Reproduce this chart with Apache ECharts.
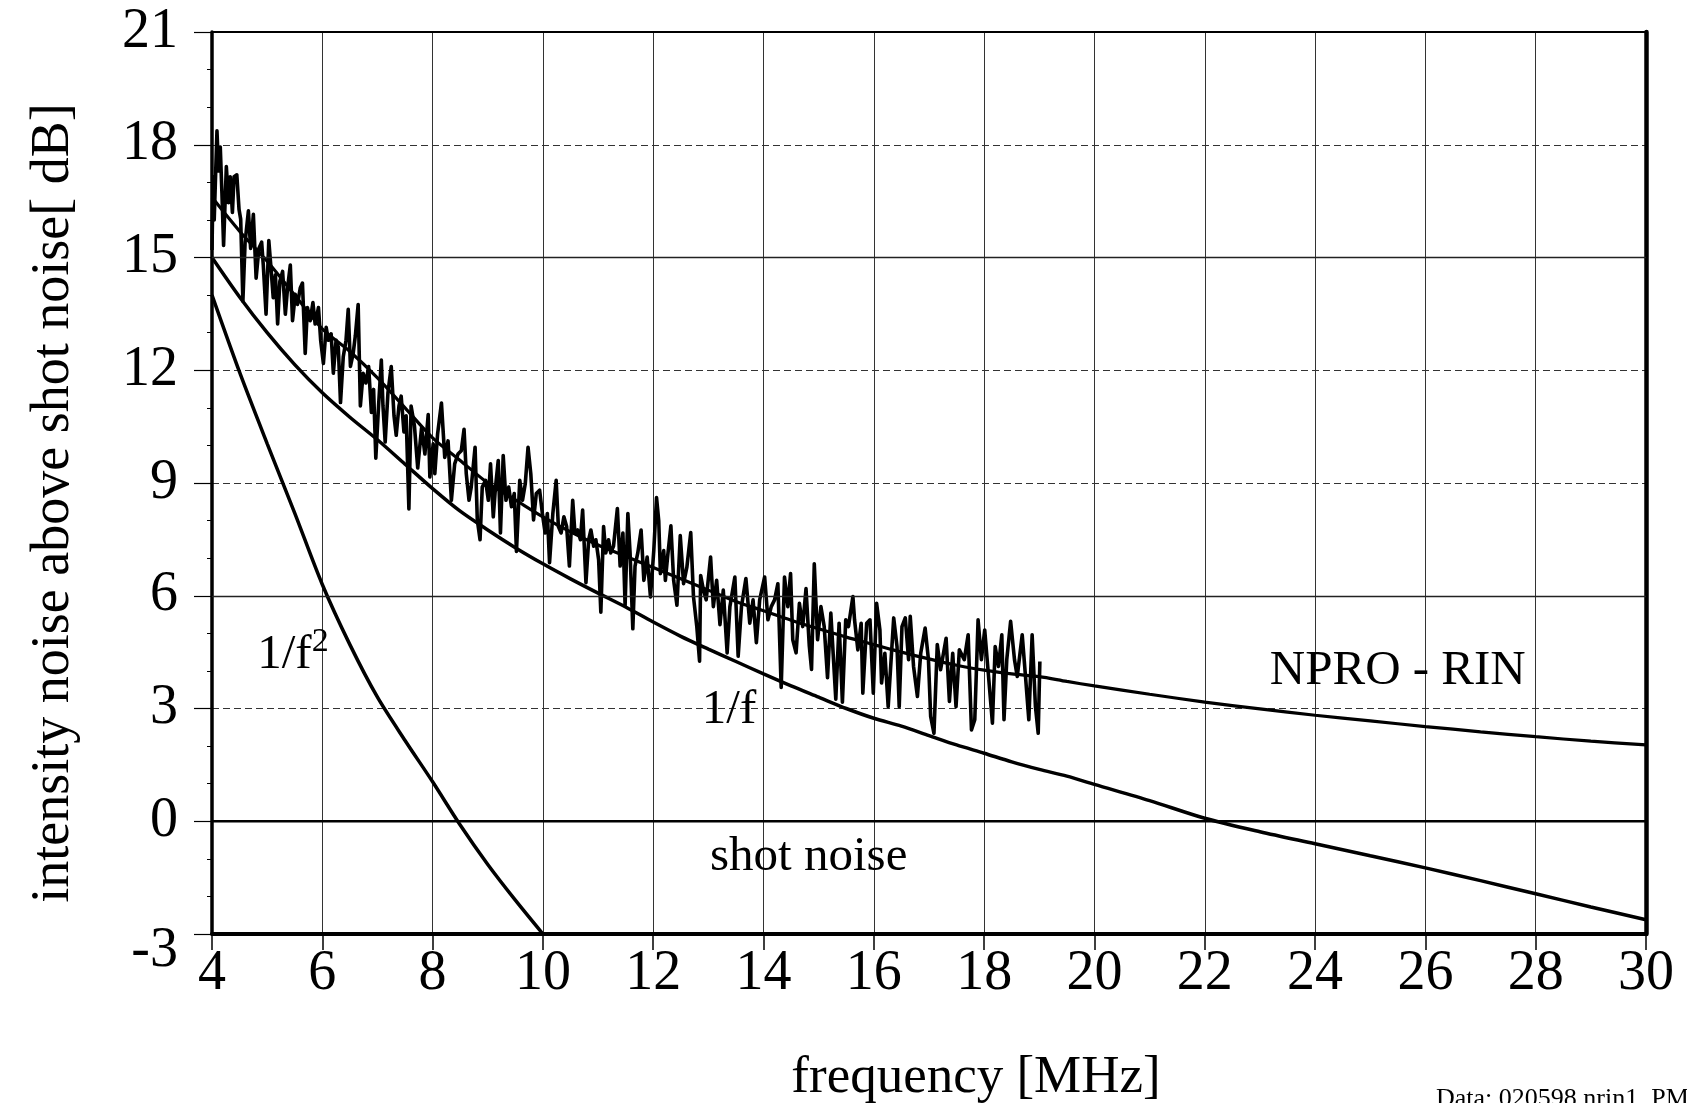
<!DOCTYPE html>
<html><head><meta charset="utf-8">
<script src="https://cdn.jsdelivr.net/npm/echarts@6.0.0/dist/echarts.min.js"></script>
<style>html,body{margin:0;padding:0;background:#fff}#c{width:1687px;height:1103px}</style>
</head><body><div id="c"></div>
<script>
// ---- data ----
const xTickValues = [4,6,8,10,12,14,16,18,20,22,24,26,28,30];
const yTickValues = [-3,0,3,6,9,12,15,18,21];

// 1/f^2 model curve
const invF2Freq = [4.0,4.5,5.0,5.5,6.0,6.5,7.0,7.5,8.0,8.5,9.0,9.5,10.0];
const invF2Db   = [14.0,11.95,10.05,8.2,6.3,4.7,3.3,2.15,1.05,-0.1,-1.15,-2.1,-3.0];

// 1/f model curve
const invFFreq = [4,4.5,5,5.5,6,6.5,7,7.5,8,8.5,9,9.5,10,10.5,11,11.5,12,12.5,13,13.5,14,14.5,15,15.5,16,16.5,17,17.5,18,18.5,19,19.5,20,21,22,23,24,25,26,27,28,29,30];
const invFDb   = [15.0,13.95,13.0,12.15,11.4,10.75,10.15,9.5,8.85,8.25,7.75,7.28,6.85,6.45,6.07,5.7,5.3,4.92,4.58,4.25,3.92,3.6,3.3,3.0,2.74,2.53,2.28,2.03,1.81,1.58,1.38,1.2,0.98,0.55,0.08,-0.28,-0.6,-0.92,-1.24,-1.58,-1.93,-2.28,-2.62];

// NPRO-RIN smooth fit
const nproFitFreq = [4,4.5,5,5.5,6,6.5,7,7.5,8,8.5,9,9.5,10,10.5,11,11.5,12,12.5,13,13.5,14,14.5,15,15.5,16,16.5,17,17.5,18,18.5,19,19.5,20,21,22,23,24,25,26,27,28,29,30];
const nproFitDb   = [16.6,15.7,14.9,14.0,13.1,12.5,11.8,11.0,10.2,9.6,9.0,8.55,8.1,7.7,7.35,7.05,6.75,6.45,6.15,5.85,5.6,5.35,5.12,4.9,4.7,4.5,4.32,4.15,4.02,3.92,3.85,3.72,3.6,3.38,3.17,2.99,2.82,2.67,2.52,2.38,2.25,2.13,2.03];

// NPRO-RIN measured trace (4 - 19 MHz)
const noiseFreq = [
4.00,4.02,4.04,4.09,4.12,4.15,4.18,4.21,4.26,4.30,4.33,4.37,4.40,4.45,4.49,4.52,4.56,4.60,4.66,4.70,
4.75,4.80,4.85,4.90,4.93,4.98,5.03,5.07,5.11,5.15,5.19,5.23,5.28,5.33,5.37,5.42,5.46,5.51,5.55,5.60,
5.64,5.69,5.73,5.78,5.83,5.87,5.93,5.97,6.02,6.07,6.11,6.16,6.20,6.25,6.29,6.33,6.38,6.43,6.47,6.51,
6.56,6.60,6.65,6.69,6.74,6.79,6.84,6.89,6.93,6.97,7.02,7.07,7.10,7.14,7.19,7.25,7.30,7.34,7.39,7.43,
7.48,7.52,7.57,7.61,7.67,7.73,
7.80,7.86,7.92,7.95,8.01,8.04,8.09,8.16,8.22,8.28,8.34,8.40,8.46,8.52,8.57,8.61,8.66,8.70,8.77,8.81,
8.86,8.90,8.96,9.01,9.05,9.10,9.14,9.19,9.23,9.28,9.33,9.38,9.43,9.48,9.52,9.58,9.63,9.68,9.73,9.78,
9.83,9.88,9.94,9.99,10.04,10.08,10.12,10.18,10.24,10.28,10.33,10.38,10.43,10.48,10.54,10.58,10.63,10.68,10.72,10.78,
10.83,10.87,10.92,10.96,11.01,11.05,11.10,11.14,11.19,11.23,11.28,11.35,11.40,11.45,11.49,11.54,11.58,11.63,11.67,11.72,
11.78,
11.83,11.89,11.95,12.01,12.06,12.10,12.13,12.19,12.22,12.26,12.32,12.37,12.43,12.49,12.55,12.61,12.68,12.73,12.79,12.84,
12.86,12.91,12.96,13.04,13.09,13.15,13.21,13.27,13.34,13.39,13.48,13.54,13.60,13.68,13.75,13.81,13.87,13.93,14.02,14.08,
14.14,14.20,14.26,14.32,14.38,14.44,14.49,14.53,14.59,14.65,14.71,14.77,14.83,14.87,14.92,14.98,15.04,15.10,15.16,15.22,
15.31,15.37,15.43,15.49,15.54,
15.62,15.65,15.71,15.77,15.80,15.87,15.93,15.99,16.05,16.11,16.14,16.20,16.26,16.36,16.42,16.46,16.51,16.57,16.63,16.66,
16.72,16.79,16.85,16.93,16.99,17.03,17.09,17.15,17.21,17.31,17.37,17.43,17.49,17.55,17.64,17.71,17.77,17.83,17.89,17.95,
18.01,18.07,18.15,18.20,18.26,18.32,18.36,18.41,18.48,18.55,18.60,18.69,18.75,18.81,18.87,18.93,18.98,19.01
];
const noiseDb = [
15.2,17.15,16.0,18.37,17.3,17.94,16.72,15.32,17.42,16.46,17.15,16.2,17.15,17.2,16.28,16.02,13.84,15.41,16.24,15.24,
16.15,14.45,15.24,15.41,14.8,13.49,15.45,14.71,13.93,14.54,13.23,14.36,14.63,13.49,14.19,14.8,13.32,14.02,13.75,14.19,
14.32,12.45,13.67,13.32,13.8,13.23,13.67,12.8,12.18,13.14,12.8,12.97,11.92,12.8,12.62,11.14,12.36,12.8,13.62,12.1,
12.45,12.93,13.75,11.05,11.92,11.66,12.1,10.88,11.49,9.66,11.05,12.27,11.05,10.09,11.4,12.1,10.79,10.27,11.05,11.31,
10.36,10.79,8.31,11.05,10.53,9.4,
10.47,9.77,10.82,9.16,10.04,9.25,10.3,11.13,9.68,10.12,8.54,9.51,9.77,9.86,10.43,9.25,8.54,8.89,9.95,8.02,
7.49,8.89,9.07,8.54,9.51,8.1,8.89,9.6,7.67,9.73,8.54,8.89,8.37,8.72,7.18,9.07,8.54,8.98,9.95,9.25,
8.02,8.72,8.81,8.19,7.67,8.19,6.88,8.19,9.07,7.84,7.67,8.1,7.84,6.79,8.54,7.67,7.75,7.49,8.28,6.35,
7.49,7.75,7.32,7.49,6.96,5.56,7.84,7.14,7.49,7.14,7.32,8.32,6.79,7.67,5.74,8.19,7.14,5.12,6.79,7.14,
7.75,
6.41,7.03,5.97,7.2,8.61,7.99,6.59,7.2,6.41,7.03,7.86,6.41,5.75,7.6,6.32,6.76,7.68,5.97,5.18,4.26,
6.54,6.15,5.89,7.03,5.71,6.41,5.23,6.15,4.48,5.71,6.5,4.39,5.71,6.46,5.27,5.89,4.75,5.89,6.5,5.36,
5.71,5.89,6.32,3.56,6.5,5.71,6.59,4.83,4.48,5.8,5.18,6.19,4.66,4.04,6.85,4.83,5.71,5.18,3.82,5.54,
3.25,5.27,3.17,5.36,5.18,
5.98,5.36,4.56,5.27,3.41,5.27,5.36,3.41,5.8,5.09,3.68,4.47,3.05,5.41,4.65,3.05,5.18,5.41,4.3,5.45,
4.12,3.32,4.47,5.14,4.3,2.79,2.34,4.7,4.03,4.87,3.19,4.47,3.05,4.56,4.3,4.96,2.43,2.7,5.36,4.3,
5.09,4.03,2.61,4.65,4.12,4.96,2.7,4.3,5.32,4.3,3.85,4.96,3.85,2.7,4.96,3.05,2.34,4.25
];

// shot-noise reference level
const shotFreq = [4, 30];
const shotDb = [0, 0];
// grid levels drawn solid in the reference
const solidGridLevels = [15, 6];

// ---- chart ----
const SERIF = "'Liberation Serif','Times New Roman',serif";
const zip = (a, b) => a.map((x, i) => [x, b[i]]);
const chart = echarts.init(document.getElementById('c'), null, {renderer: 'canvas'});
const lineBase = {type: 'line', showSymbol: false, symbol: 'none', silent: true, animation: false,
  xAxisIndex: 0, yAxisIndex: 0};

chart.setOption({
  backgroundColor: '#fff',
  animation: false,
  grid: {left: 212, right: 41, top: 32, bottom: 169, show: true, borderColor: '#000', borderWidth: 2,
         outerBoundsMode: 'none', containLabel: false},
  xAxis: [{
    type: 'value', min: 4, max: 30, interval: 2, position: 'bottom',
    axisLine: {show: true, onZero: false, lineStyle: {color: '#000', width: 4}},
    axisTick: {show: true, length: 16, lineStyle: {color: '#000', width: 1.5}},
    axisLabel: {color: '#000', fontFamily: SERIF, fontSize: 56, margin: 12,
      formatter: v => xTickValues.includes(v) ? String(v) : ''},
    splitLine: {show: true, lineStyle: {color: '#333', width: 1, type: 'solid'}}
  }, {
    type: 'value', min: 4, max: 30, position: 'top',
    axisLine: {show: true, onZero: false, lineStyle: {color: '#000', width: 2}},
    axisTick: {show: false}, axisLabel: {show: false}, splitLine: {show: false}
  }],
  yAxis: [{
    type: 'value', min: -3, max: 21, interval: 3, position: 'left',
    axisLine: {show: true, onZero: false, lineStyle: {color: '#000', width: 3.5}},
    axisTick: {show: true, length: 18, lineStyle: {color: '#000', width: 1.2}},
    minorTick: {show: true, splitNumber: 3, length: 5, lineStyle: {color: '#000', width: 1}},
    axisLabel: {color: '#000', fontFamily: SERIF, fontSize: 56, margin: 34,
      formatter: v => v === -3 ? '{d|-3}' : (yTickValues.includes(v) ? String(v) : ''),
      rich: {d: {fontFamily: SERIF, fontSize: 56, color: '#000', padding: [34, 0, 0, 0]}}},
    splitLine: {show: true, lineStyle: {color: '#333', width: 1, type: [7, 4]}}
  }, {
    type: 'value', min: -3, max: 21, position: 'right',
    axisLine: {show: true, onZero: false, lineStyle: {color: '#000', width: 4.5}},
    axisTick: {show: false}, axisLabel: {show: false}, splitLine: {show: false}
  }],
  series: [
    Object.assign({}, lineBase, {name: 'shot noise', data: zip(shotFreq, shotDb),
      lineStyle: {color: '#000', width: 2.5},
      markLine: {symbol: 'none', silent: true, animation: false, label: {show: false},
        lineStyle: {color: '#222', width: 1.3, type: 'solid'},
        data: solidGridLevels.map(l => ({yAxis: l}))}}),
    Object.assign({}, lineBase, {name: '1/f2', data: zip(invF2Freq, invF2Db), smooth: 0.3,
      lineStyle: {color: '#000', width: 3.5}}),
    Object.assign({}, lineBase, {name: '1/f', data: zip(invFFreq, invFDb), smooth: 0.3,
      lineStyle: {color: '#000', width: 3.5}}),
    Object.assign({}, lineBase, {name: 'NPRO fit', data: zip(nproFitFreq, nproFitDb), smooth: 0.3,
      lineStyle: {color: '#000', width: 3.2}}),
    Object.assign({}, lineBase, {name: 'NPRO - RIN', data: zip(noiseFreq, noiseDb),
      lineStyle: {color: '#000', width: 3.6, join: 'round'}})
  ]
});

// ---- annotations (anchored in data coordinates: left edge, vertical middle) ----
const annotations = [
  {text: '{a|1/f}{s|2}', f: 4.82, v: 4.42},
  {text: '1/f', f: 12.88, v: 2.95},
  {text: 'NPRO - RIN', f: 23.18, v: 4.0},
  {text: 'shot noise', f: 13.03, v: -0.95}
];
const g = annotations.map(a => {
  const p = chart.convertToPixel({gridIndex: 0}, [a.f, a.v]);
  return {type: 'text', x: p[0], y: p[1], silent: true, z: 100,
    style: {text: a.text, fill: '#000', font: '49px ' + SERIF, align: 'left', verticalAlign: 'middle',
      rich: {a: {fontSize: 49, fontFamily: SERIF, fill: '#000', color: '#000'},
             s: {fontSize: 34, fontFamily: SERIF, fill: '#000', color: '#000', verticalAlign: 'top', padding: [0, 0, 26, 0]}}}};
});
g.push({type: 'text', x: 54, y: 503, rotation: Math.PI / 2, silent: true,
  style: {text: 'intensity noise above shot noise[ dB]', fill: '#000', font: '54px ' + SERIF,
    align: 'center', verticalAlign: 'middle'}});
g.push({type: 'text', x: 976, y: 1078, silent: true,
  style: {text: 'frequency [MHz]', fill: '#000', font: '53px ' + SERIF,
    align: 'center', verticalAlign: 'middle'}});
g.push({type: 'text', x: 1436, y: 1086, silent: true,
  style: {text: 'Data: 020598.nrin1. PM', fill: '#000', font: '26px ' + SERIF,
    align: 'left', verticalAlign: 'top'}});
chart.setOption({graphic: g});
</script></body></html>
